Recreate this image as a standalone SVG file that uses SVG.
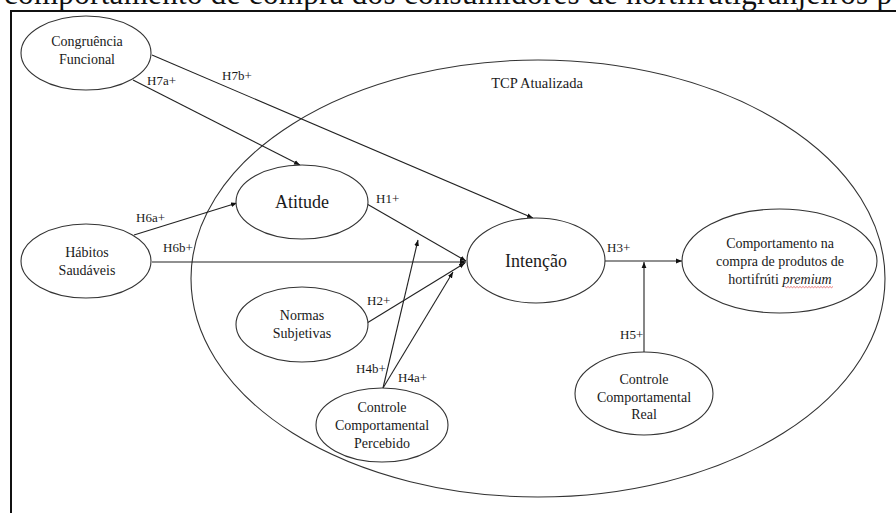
<svg xmlns="http://www.w3.org/2000/svg" width="896" height="513" viewBox="0 0 896 513">
<style>
  .bg { fill: #ffffff; }
  .frame { stroke: #111; stroke-width: 2; fill: none; }
  .node { fill: #ffffff; stroke: #333; stroke-width: 1.1; }
  .outer { fill: none; stroke: #333; stroke-width: 1.1; }
  .edge { stroke: #222; stroke-width: 1.1; fill: none; }
  .t { font-family: "Liberation Serif", "Times New Roman", serif; fill: #1a1a1a; text-anchor: middle; }
  .n { font-size: 14px; }
  .big { font-size: 18px; }
  .lbl { font-family: "Liberation Serif", "Times New Roman", serif; fill: #1a1a1a; font-size: 13px; }
</style>
<defs>
  <marker id="arr" markerWidth="7" markerHeight="6" refX="6" refY="3" orient="auto" markerUnits="userSpaceOnUse">
    <path d="M0,0.6 L6,3 L0,5.4 Z" fill="#111"/>
  </marker>
</defs>
<rect class="bg" x="0" y="0" width="896" height="513"/>

<text x="4" y="4" font-family="Liberation Serif, Times New Roman, serif" font-size="31" fill="#111" textLength="888" lengthAdjust="spacing">comportamento de compra dos consumidores de hortifrutigranjeiros p</text>

<path class="frame" d="M11,513 L11,11 L896,11"/>

<g id="tcp">
  <ellipse class="outer" cx="538" cy="278.5" rx="347" ry="218.5"/>
  <text class="t" x="537" y="88" font-size="14.5">TCP Atualizada</text>
</g>

<g id="connectors">
  <line class="edge" x1="133" y1="80" x2="300" y2="165" marker-end="url(#arr)"/>
  <line class="edge" x1="152" y1="55" x2="533" y2="218" marker-end="url(#arr)"/>
  <line class="edge" x1="134" y1="235" x2="237" y2="203" marker-end="url(#arr)"/>
  <line class="edge" x1="152" y1="262" x2="466" y2="262" marker-end="url(#arr)"/>
  <line class="edge" x1="367" y1="204" x2="466" y2="261" marker-end="url(#arr)"/>
  <line class="edge" x1="367" y1="323" x2="465" y2="263" marker-end="url(#arr)"/>
  <line class="edge" x1="383" y1="388" x2="453" y2="272" marker-end="url(#arr)"/>
  <line class="edge" x1="383" y1="388" x2="418" y2="240" marker-end="url(#arr)"/>
  <line class="edge" x1="605" y1="261" x2="682" y2="261" marker-end="url(#arr)"/>
  <line class="edge" x1="644" y1="352" x2="644" y2="262" marker-end="url(#arr)"/>
  <text class="lbl" x="147" y="85">H7a+</text>
  <text class="lbl" x="222" y="80">H7b+</text>
  <text class="lbl" x="136" y="222">H6a+</text>
  <text class="lbl" x="163" y="252">H6b+</text>
  <text class="lbl" x="376" y="203">H1+</text>
  <text class="lbl" x="367" y="305">H2+</text>
  <text class="lbl" x="356" y="373">H4b+</text>
  <text class="lbl" x="398" y="382">H4a+</text>
  <text class="lbl" x="607" y="252">H3+</text>
  <text class="lbl" x="620" y="339">H5+</text>
</g>

<g id="congruencia">
  <ellipse class="node" cx="86" cy="53" rx="65" ry="37"/>
  <text class="t n" x="87" y="46">Congruência</text>
  <text class="t n" x="87" y="64">Funcional</text>
</g>

<g id="habitos">
  <ellipse class="node" cx="86" cy="261" rx="65" ry="37"/>
  <text class="t n" x="87" y="257">Hábitos</text>
  <text class="t n" x="87" y="275">Saudáveis</text>
</g>

<g id="atitude">
  <ellipse class="node" cx="302" cy="202" rx="66" ry="37"/>
  <text class="t big" x="302" y="208">Atitude</text>
</g>

<g id="intencao">
  <ellipse class="node" cx="536" cy="260.5" rx="69" ry="42.5"/>
  <text class="t big" x="536" y="267">Intenção</text>
</g>

<g id="normas">
  <ellipse class="node" cx="302" cy="324.5" rx="66" ry="37.5"/>
  <text class="t n" x="302" y="320">Normas</text>
  <text class="t n" x="302" y="338">Subjetivas</text>
</g>

<g id="ccp">
  <ellipse class="node" cx="382" cy="425" rx="66" ry="37"/>
  <text class="t n" x="382" y="412">Controle</text>
  <text class="t n" x="382" y="430">Comportamental</text>
  <text class="t n" x="382" y="448">Percebido</text>
</g>

<g id="ccr">
  <ellipse class="node" cx="644" cy="393.5" rx="69" ry="41.5"/>
  <text class="t n" x="644" y="384">Controle</text>
  <text class="t n" x="644" y="402">Comportamental</text>
  <text class="t n" x="644" y="419">Real</text>
</g>

<g id="comportamento">
  <ellipse class="node" cx="779.5" cy="261" rx="97.5" ry="52"/>
  <text class="t n" x="780" y="248">Comportamento na</text>
  <text class="t n" x="780" y="266">compra de produtos de</text>
  <text class="t n" x="780" y="284">hortifrúti <tspan font-style="italic">premium</tspan></text>
  <path d="M785,286.5 l1.5,1.2 l1.5,-1.2 l1.5,1.2 l1.5,-1.2 l1.5,1.2 l1.5,-1.2 l1.5,1.2 l1.5,-1.2 l1.5,1.2 l1.5,-1.2 l1.5,1.2 l1.5,-1.2 l1.5,1.2 l1.5,-1.2 l1.5,1.2 l1.5,-1.2 l1.5,1.2 l1.5,-1.2 l1.5,1.2 l1.5,-1.2 l1.5,1.2 l1.5,-1.2 l1.5,1.2 l1.5,-1.2 l1.5,1.2 l1.5,-1.2 l1.5,1.2 l1.5,-1.2 l1.5,1.2 l1.5,-1.2 l1.5,1.2 l1.5,-1.2" fill="none" stroke="#d44" stroke-width="0.7"/>
</g>
</svg>
